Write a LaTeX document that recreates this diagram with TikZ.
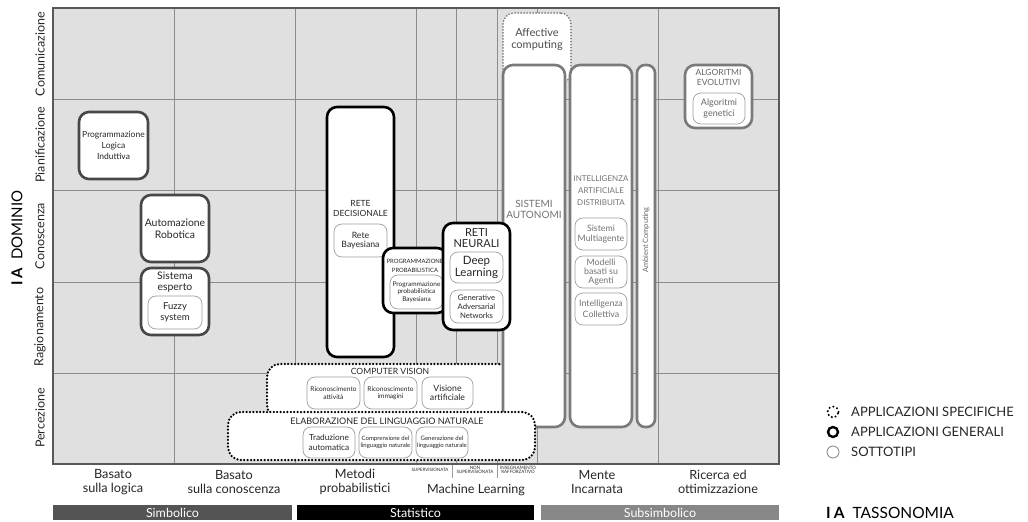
\documentclass[tikz,border=0pt]{standalone}
\usepackage{fontspec}
\setmainfont{Lato}
\newcommand\fs[2]{\fontsize{#1}{#2}\selectfont}
\newcommand\bx[7]{\node[#2, minimum width={(#5-#3)*1pt}, minimum height={(#6-#4)*1pt}] (#1) at ({(#3+#5)/2},{(#4+#6)/2}) {#7};}
\begin{document}
\begin{tikzpicture}[x=1pt,y=-1pt,
 box/.style={draw, fill=white, rounded corners=10pt, inner sep=0pt, line width=2.6pt},
 gen/.style={box, draw=black},
 dg/.style={box, draw=black!72},
 gr/.style={box, draw=black!52},
 sub/.style={draw=black!38, fill=white, rounded corners=8pt, line width=0.7pt, inner sep=0pt, align=center, text=black!85},
 spec/.style={draw=black, fill=white, rounded corners=13pt, line width=2.5pt, dash pattern=on 0pt off 3.4pt, line cap=round, inner sep=0pt},
 lbl/.style={align=center, inner sep=0pt, text=black!85},
 gridline/.style={draw=black!45, line width=0.7pt},
]
\useasboundingbox (0,0) rectangle (1028,522);
% grid
\fill[black!12] (53,8) rectangle (779,464);
\foreach \yy in {99,190,282,373} \draw[gridline] (53,\yy) -- (779,\yy);
\foreach \xx in {174,295,416,456,497,537,658} \draw[gridline] (\xx,8) -- (\xx,464);
\draw[draw=black!65, line width=1.2pt] (53,8) rectangle (779,464);

% row labels
\node[lbl, rotate=90, font=\fs{12.5}{14}] (r1) at (40,54) {Comunicazione};
\node[lbl, rotate=90, font=\fs{12.5}{14}] (r2) at (40,145) {Pianificazione};
\node[lbl, rotate=90, font=\fs{12.5}{14}] (r3) at (40,236) {Conoscenza};
\node[lbl, rotate=90, font=\fs{12.5}{14}] (r4) at (40,327) {Ragionamento};
\node[lbl, rotate=90, font=\fs{12.5}{14}] (r5) at (40,418) {Percezione};
\node[lbl, rotate=90, font=\fs{15}{16}, text=black] (dom) at (17,238) {\textbf{I\hspace{3pt}A}\hspace{8pt}DOMINIO};

% column labels
\node[lbl, font=\fs{12.7}{14}] (c1) at (113,482) {Basato\\sulla logica};
\node[lbl, font=\fs{12.7}{14}] (c2) at (234,482) {Basato\\sulla conoscenza};
\node[lbl, font=\fs{12.7}{14}] (c3) at (355,482) {Metodi\\probabilistici};
\node[lbl, font=\fs{12.6}{14}] (c4) at (476,490) {Machine Learning};
\node[lbl, font=\fs{4.5}{4.5}] (ml1) at (430,470) {SUPERVISIONATA};
\node[lbl, font=\fs{4.5}{4.5}] (ml2) at (475,470) {NON\\SUPERVISIONATA};
\node[lbl, font=\fs{4.5}{4.5}] (ml3) at (518,470) {INSEGNAMENTO\\RAFFORZATIVO};
\draw[draw=black!40, line width=0.5pt] (452,465) -- (452,478);
\draw[draw=black!40, line width=0.5pt] (497,465) -- (497,478);
\node[lbl, font=\fs{12.7}{14}] (c5) at (597,482) {Mente\\Incarnata};
\node[lbl, font=\fs{12.7}{14}] (c6) at (718,482) {Ricerca ed\\ottimizzazione};

% bottom bars
\fill[black!67] (53,505) rectangle (292,520);
\fill[black] (297,505) rectangle (534,520);
\fill[black!47] (541,505) rectangle (779,520);
\node[lbl, text=white, font=\fs{12.5}{14}] (b1) at (172.5,512.5) {Simbolico};
\node[lbl, text=white, font=\fs{12.5}{14}] (b2) at (415.5,512.5) {Statistico};
\node[lbl, text=white, font=\fs{12.5}{14}] (b3) at (660,512.5) {Subsimbolico};

% simbolico boxes
\bx{pli}{dg, align=center, text=black!85, font=\fs{8.5}{11}}{79}{112}{148}{179}{Programmazione\\Logica\\Induttiva}
\bx{ar}{dg, align=center, text=black!85, font=\fs{10.4}{11.5}}{141}{195}{209}{262}{Automazione\\Robotica}
\bx{se}{dg}{141}{268}{209}{335}{}
\node[lbl, font=\fs{10.4}{11}] (set) at (175,282.5) {Sistema\\esperto};
\bx{fz}{sub, font=\fs{9.5}{11}}{148}{296}{202}{329}{Fuzzy\\system}

% affective computing
\node[spec, draw=black!50, line width=2pt, dash pattern=on 0pt off 3pt, rounded corners=11pt, minimum width=68pt, minimum height=70pt] (aff) at (537,48) {};
\node[lbl, text=black!70, font=\fs{11}{11.5}] (afft) at (537,39.5) {Affective\\computing};

% computer vision (below SA)
\bx{cv}{spec}{267}{364}{512}{418}{}

% subsimbolico
\bx{sa}{gr}{503}{65}{565}{427}{}
\node[lbl, text=black!55, font=\fs{10}{11.5}] (sat) at (534,209.5) {SISTEMI\\AUTONOMI};
\bx{iad}{gr}{570}{65}{632}{427}{}
\node[lbl, text=black!55, font=\fs{8}{12.2}] (iadt) at (601,190.5) {INTELLIGENZA\\ARTIFICIALE\\DISTRIBUITA};
\bx{sm}{sub, text=black!55, font=\fs{8.8}{10.5}}{575}{218}{627}{250}{Sistemi\\Multiagente}
\bx{mba}{sub, text=black!55, font=\fs{8.8}{9}}{575}{256}{627}{288}{Modelli\\basati su\\Agenti}
\bx{ic}{sub, text=black!55, font=\fs{8.8}{10.5}}{575}{293}{627}{325}{Intelligenza\\Collettiva}
\bx{amb}{gr, rounded corners=8pt}{637}{65}{655}{427}{}
\node[lbl, rotate=90, text=black!60, font=\fs{7.4}{8}] (ambt) at (646,240) {Ambient Computing};
\bx{ae}{gr}{685}{65}{752}{128}{}
\node[lbl, text=black!60, font=\fs{8.5}{10}] (aet) at (718.5,77.5) {ALGORITMI\\EVOLUTIVI};
\bx{ag}{sub, text=black!60, font=\fs{9}{11}}{693}{93}{745}{124}{Algoritmi\\genetici}

% statistico
\bx{rd}{gen}{327}{107}{394}{357}{}
\node[lbl, font=\fs{8.5}{10}] (rdt) at (360.5,208) {RETE\\DECISIONALE};
\bx{rb}{sub, font=\fs{8.7}{9.5}}{334}{224}{387}{257}{Rete\\Bayesiana}
\bx{pp}{gen}{383}{248}{447}{313}{}
\node[lbl, font=\fs{5.9}{9}] (ppt) at (415,265.5) {PROGRAMMAZIONE\\PROBABILISTICA};
\bx{ppb}{sub, font=\fs{6.5}{7.2}}{390}{275}{443}{309}{Programmazione\\probabilistica\\Bayesiana}
\bx{rn}{gen}{443}{223}{510}{330}{}
\node[lbl, font=\fs{11}{11.5}] (rnt) at (476.5,238) {RETI\\NEURALI};
\bx{dl}{sub, font=\fs{11.5}{11.5}}{450}{252}{503}{283}{Deep\\Learning}
\bx{gan}{sub, font=\fs{7.7}{9}}{450}{290}{503}{323}{Generative\\Adversarial\\Networks}

% computer vision content
\node[lbl, font=\fs{8.6}{10}] (cvt) at (390,371) {COMPUTER VISION};
\bx{ra}{sub, font=\fs{6.6}{7.5}}{307}{377}{360}{409}{Riconoscimento\\attività}
\bx{ri}{sub, font=\fs{6.6}{7.5}}{364}{377}{417}{409}{Riconoscimento\\immagini}
\bx{va}{sub, font=\fs{8.7}{9.5}}{422}{377}{473}{409}{Visione\\artificiale}

% NLP
\bx{nlp}{spec}{228}{412}{535}{460}{}
\node[lbl, font=\fs{9}{10}] (nlpt) at (387,421) {ELABORAZIONE DEL LINGUAGGIO NATURALE};
\bx{ta}{sub, font=\fs{8.3}{9.5}}{303}{427}{355}{458}{Traduzione\\automatica}
\bx{cl}{sub, font=\fs{6}{7.5}}{359}{427}{412}{458}{Comprensione del\\linguaggio naturale}
\bx{gl}{sub, font=\fs{6}{7.5}}{416}{427}{468}{458}{Generazione del\\linguaggio naturale}

% legend
\node[circle, draw=black, line width=2.3pt, dash pattern=on 0pt off 4pt, line cap=round, minimum size=11pt, inner sep=0pt] (lg1) at (833,412) {};
\node[circle, draw=black, line width=2.4pt, minimum size=10pt, inner sep=0pt] (lg2) at (833,432) {};
\node[circle, draw=black!50, line width=0.8pt, minimum size=12pt, inner sep=0pt] (lg3) at (833,452) {};
\node[lbl, anchor=west, font=\fs{13}{14}] (lt1) at (851,412) {APPLICAZIONI SPECIFICHE};
\node[lbl, anchor=west, font=\fs{13}{14}] (lt2) at (851,432) {APPLICAZIONI GENERALI};
\node[lbl, anchor=west, font=\fs{13}{14}] (lt3) at (851,452) {SOTTOTIPI};
\node[lbl, anchor=west, text=black, font=\fs{15.5}{16}] (tax) at (826,513) {\textbf{I\hspace{3pt}A}\hspace{8pt}TASSONOMIA};
\end{tikzpicture}
\end{document}
